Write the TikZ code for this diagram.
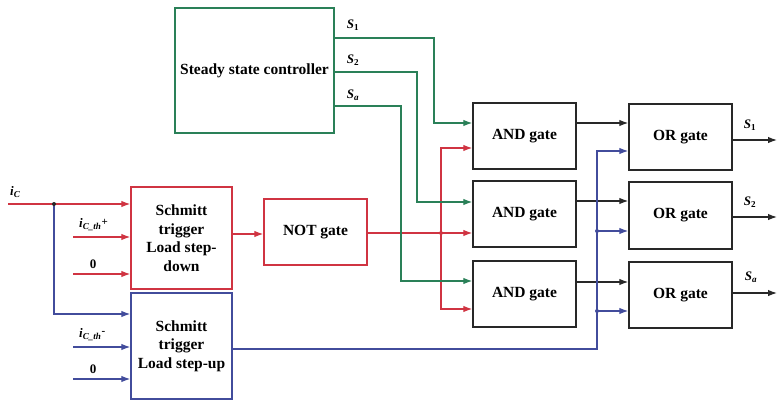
\documentclass[tikz,border=0pt]{standalone}
\usepackage{fontspec}
\setmainfont{Liberation Serif}
\usetikzlibrary{arrows.meta}
\definecolor{cred}{RGB}{208,52,66}
\definecolor{cgreen}{RGB}{42,128,88}
\definecolor{cblue}{RGB}{66,76,156}
\definecolor{cblack}{RGB}{40,40,40}
\tikzset{
  gbox/.style={draw=#1, line width=1.4pt, fill=white, inner sep=0pt, align=center,
    font=\bfseries\fontsize{15.5}{18.5}\selectfont},
  wire/.style={draw=#1, line width=1.2pt},
  arr/.style={-{Latex[length=9pt,width=6.5pt]}},
  jdot/.style={circle, fill=#1, inner sep=0pt, minimum size=4pt},
  lbl/.style={font=\bfseries\itshape\fontsize{13}{15}\selectfont, inner sep=0pt},
}
\begin{document}
\begin{tikzpicture}[x=1pt,y=-1pt]
\useasboundingbox (0,0) rectangle (778,402);
% boxes
\node[gbox=cgreen, minimum width=159pt, minimum height=125pt] (ssc) at (254.5,70.5) {Steady state controller};
\node[gbox=cred, minimum width=101pt, minimum height=102pt] (stdown) at (181.5,238) {Schmitt\\trigger\\Load step-\\down};
\node[gbox=cblue, minimum width=101pt, minimum height=106pt] (stup) at (181.5,346) {Schmitt\\trigger\\Load step-up};
\node[gbox=cred, minimum width=103pt, minimum height=66pt] (notg) at (315.5,232) {NOT gate};
\node[gbox=cblack, minimum width=103pt, minimum height=66pt] (and1) at (524.5,136) {AND gate};
\node[gbox=cblack, minimum width=103pt, minimum height=66pt] (and2) at (524.5,214) {AND gate};
\node[gbox=cblack, minimum width=103pt, minimum height=66pt] (and3) at (524.5,294) {AND gate};
\node[gbox=cblack, minimum width=103pt, minimum height=66pt] (or1) at (680.5,137) {OR gate};
\node[gbox=cblack, minimum width=103pt, minimum height=67pt] (or2) at (680.5,215.5) {OR gate};
\node[gbox=cblack, minimum width=103pt, minimum height=66pt] (or3) at (680.5,295) {OR gate};

% free ends
\coordinate (icin) at (8,204);
\coordinate (thp) at (73,237);
\coordinate (zp) at (73,274);
\coordinate (thm) at (73,347);
\coordinate (zm) at (73,379);
\coordinate (o1) at (777,140);
\coordinate (o2) at (777,217);
\coordinate (o3) at (777,293);
\coordinate (jic) at (54,204);
\coordinate (jnot) at (441,233);
\coordinate (jb2) at (597,231);
\coordinate (jb3) at (597,311);

% left inputs
\draw[wire=cred, arr] (icin) -- (stdown.west |- icin);
\draw[wire=cblue, arr] (jic) |- (stup.west |- 0,314);
\draw[wire=cred, arr] (thp) -- (stdown.west |- thp);
\draw[wire=cred, arr] (zp) -- (stdown.west |- zp);
\draw[wire=cblue, arr] (thm) -- (stup.west |- thm);
\draw[wire=cblue, arr] (zm) -- (stup.west |- zm);
\node[lbl, anchor=south west] at (10,198) {i\textsubscript{C}};
\node[lbl, anchor=south west] at (79,231) {i\textsubscript{C\_th}\raisebox{2pt}{\upshape\fontsize{11}{12}\selectfont +}};
\node[lbl, anchor=south west] at (79,341) {i\textsubscript{C\_th}\raisebox{3pt}{\upshape\fontsize{11}{12}\selectfont -}};
\node[lbl, anchor=south, font=\bfseries\fontsize{13}{15}\selectfont] at (93,269) {0};
\node[lbl, anchor=south, font=\bfseries\fontsize{13}{15}\selectfont] at (93,374) {0};

% Schmitt down -> NOT
\draw[wire=cred, arr] (stdown.east |- 0,234) -- (notg.west |- 0,234);
% NOT -> AND gates
\draw[wire=cred, arr] (notg.east |- jnot) -- (and2.west |- jnot);
\draw[wire=cred, arr] (jnot) |- (and1.west |- 0,148);
\draw[wire=cred, arr] (jnot) |- (and3.west |- 0,309);

% steady state controller -> AND gates
\draw[wire=cgreen, arr] (ssc.east |- 0,38) -- (434,38) |- (and1.west |- 0,123);
\draw[wire=cgreen, arr] (ssc.east |- 0,72) -- (417,72) |- (and2.west |- 0,202);
\draw[wire=cgreen, arr] (ssc.east |- 0,106) -- (401,106) |- (and3.west |- 0,281);
\node[lbl] at (353,25) {S\textsubscript{\upshape 1}};
\node[lbl] at (353,60) {S\textsubscript{\upshape 2}};
\node[lbl] at (353,95) {S\textsubscript{a}};

% AND -> OR
\draw[wire=cblack, arr] (and1.east |- 0,123) -- (or1.west |- 0,123);
\draw[wire=cblack, arr] (and2.east |- 0,201) -- (or2.west |- 0,201);
\draw[wire=cblack, arr] (and3.east |- 0,282) -- (or3.west |- 0,282);

% step-up -> OR gates
\draw[wire=cblue, arr] (stup.east |- 0,349) -- (597,349) |- (or1.west |- 0,151);
\draw[wire=cblue, arr] (jb2) -- (or2.west |- jb2);
\draw[wire=cblue, arr] (jb3) -- (or3.west |- jb3);

% outputs
\draw[wire=cblack, arr] (or1.east |- o1) -- (o1);
\draw[wire=cblack, arr] (or2.east |- o2) -- (o2);
\draw[wire=cblack, arr] (or3.east |- o3) -- (o3);
\node[lbl] at (750,125) {S\textsubscript{\upshape 1}};
\node[lbl] at (750,202) {S\textsubscript{\upshape 2}};
\node[lbl] at (751,277) {S\textsubscript{a}};

% junction dots
\node[jdot=cblack] (dic) at (jic) {};
\node[jdot=cred] (dnot) at (jnot) {};
\node[jdot=cblue] (db2) at (jb2) {};
\node[jdot=cblue] (db3) at (jb3) {};
\end{tikzpicture}
\end{document}
